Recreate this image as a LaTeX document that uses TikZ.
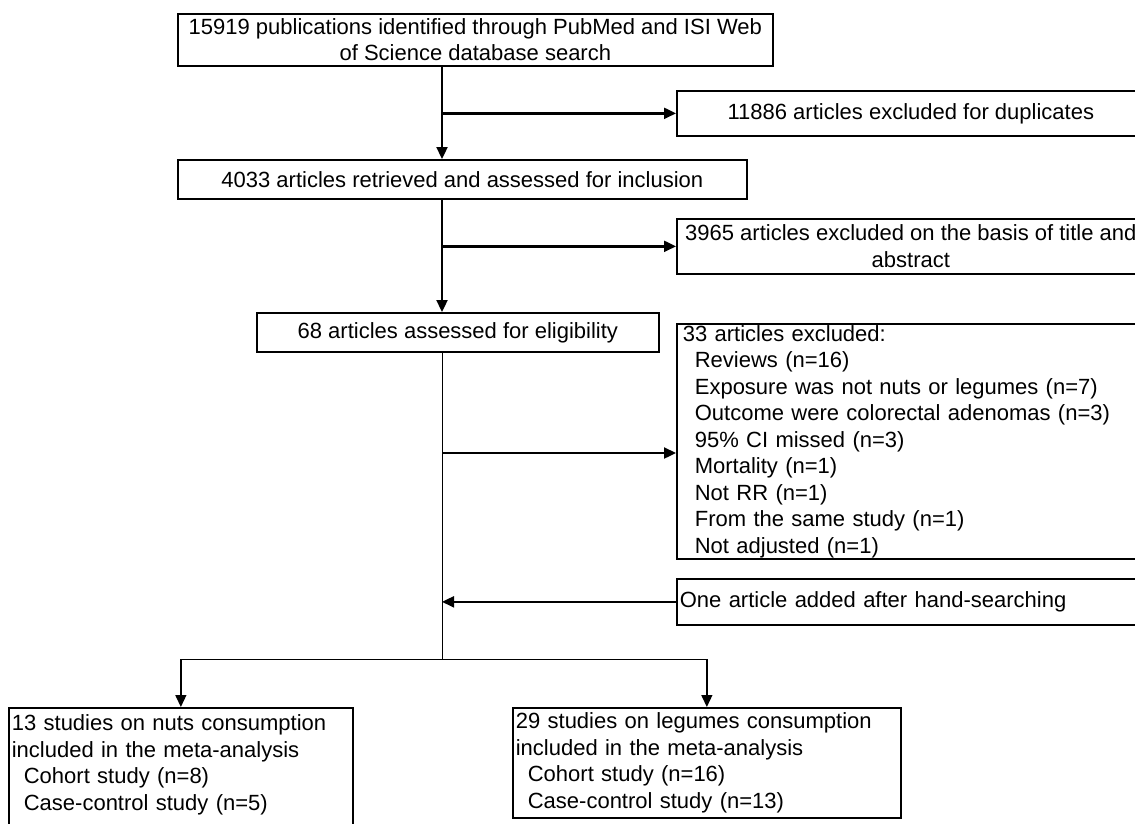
\documentclass[tikz,border=0pt]{standalone}
\usepackage{fontspec}
\setmainfont{Liberation Sans}
\usetikzlibrary{arrows.meta, positioning, calc}

\begin{document}
\begin{tikzpicture}[
  x=1pt, y=-1pt,
  box/.style={draw=black, line width=1.7pt, anchor=north west, inner sep=0pt,
              align=center, font=\fontsize{22}{26.5}\selectfont},
  listbox/.style={box, align=left, inner xsep=3pt},
  arr/.style={-{Triangle[length=12pt,width=11pt]}, line width=2.3pt},
  thinarr/.style={-{Triangle[length=12pt,width=11pt]}, line width=1.4pt},
  thinline/.style={line width=1pt}
]
\useasboundingbox (0,0) rectangle (1135,823);

% main column
\node[box, minimum width=595, minimum height=52] (search) at (177,13)
  {15919 publications identified through PubMed and ISI Web\\of Science database search};
\node[box, minimum width=569, minimum height=39] (incl) at (177,159)
  {4033 articles retrieved and assessed for inclusion};
\node[box, minimum width=402, minimum height=39] (elig) at (256,312)
  {68 articles assessed for eligibility};

% side boxes
\node[box, minimum width=468, minimum height=45] (dup) at (676,90)
  {11886 articles excluded for duplicates};
\node[box, minimum width=468, minimum height=55] (abstr) at (676,218)
  {3965 articles excluded on the basis of title and\\abstract};
\node[listbox, inner xsep=6pt, text width=456pt, minimum height=235] (excl) at (676,323)
  {33 articles excluded:\\
   \hspace*{12pt}Reviews (n=16)\\
   \hspace*{12pt}Exposure was not nuts or legumes (n=7)\\
   \hspace*{12pt}Outcome were colorectal adenomas (n=3)\\
   \hspace*{12pt}95\% CI missed (n=3)\\
   \hspace*{12pt}Mortality (n=1)\\
   \hspace*{12pt}Not RR (n=1)\\
   \hspace*{12pt}From the same study (n=1)\\
   \hspace*{12pt}Not adjusted (n=1)};
\node[listbox, text width=462pt, minimum height=46] (hand) at (676,578)
  {One article added after hand-searching};

% included studies
\node[listbox, text width=338pt, minimum height=136] (nuts) at (8,707)
  {13 studies on nuts consumption\\
   included in the meta-analysis\\
   \hspace*{12pt}Cohort study (n=8)\\
   \hspace*{12pt}Case-control study (n=5)\\\mbox{}};
\node[listbox, text width=382pt, minimum height=110] (legumes) at (512,707)
  {29 studies on legumes consumption\\
   included in the meta-analysis\\
   \hspace*{12pt}Cohort study (n=16)\\
   \hspace*{12pt}Case-control study (n=13)};

% connectors
\coordinate (trunk) at (442,0);
\coordinate (toexcl) at (676,453);
\coordinate (split) at (442,659);

\draw[arr] (trunk |- search.south) -- (trunk |- incl.north);
\draw[arr] (trunk |- dup.west) -- (dup.west);
\draw[arr] (trunk |- incl.south) -- (trunk |- elig.north);
\draw[arr] (trunk |- abstr.west) -- (abstr.west);
\draw[thinline] (trunk |- elig.south) -- (split);
\draw[arr] (trunk |- toexcl) -- (toexcl);
\draw[arr] (hand.west) -- (trunk |- hand.west);
\draw[thinline] (nuts.north |- split) -- (legumes.north |- split);
\draw[thinarr] (nuts.north |- split) -- (nuts.north);
\draw[thinarr] (legumes.north |- split) -- (legumes.north);
\end{tikzpicture}
\end{document}
